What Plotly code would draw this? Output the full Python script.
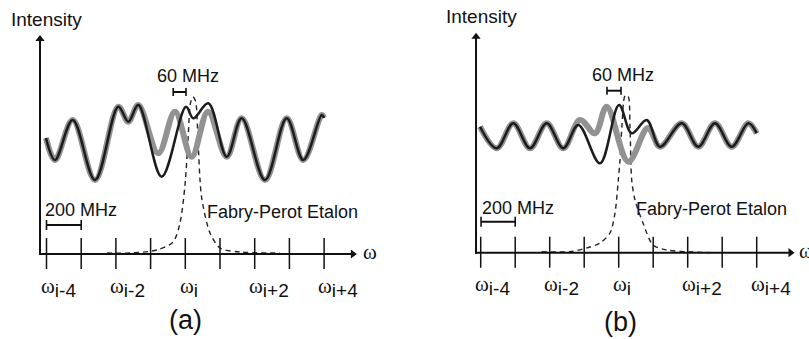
import plotly.graph_objects as go

# ---------------- data (frequency in units of mode spacing, intensity in arbitrary units) -------------
modes = [-4, -3, -2, -1, 0, 1, 2, 3, 4]
label_modes = [-4, -2, 0, 2, 4]
label_subs = ["i-4", "i-2", "i", "i+2", "i+4"]

# panel (a)
a_black_x = [-4.014, -3.755, -3.245, -2.602, -1.931, -1.643, -1.354, -0.680, 0.020, 0.231, 0.663,
             1.193, 1.625, 2.297, 2.922, 3.401, 3.931, 3.997]
a_black_y = [116, 94, 134, 74, 147.3, 132.3, 149, 77.3, 147.3, 135.7, 150.7,
             97.3, 135.7, 74, 135.7, 94, 139, 136]
a_gray_x = [-4.014, -3.755, -3.245, -2.602, -1.931, -1.643, -1.354, -0.778, -0.297, 0.184, 0.654,
            1.193, 1.625, 2.297, 2.922, 3.401, 3.931, 3.997]
a_gray_y = [116, 94, 134, 74, 147.3, 132.3, 149, 100.7, 142.3, 97.3, 142.3,
            97.3, 135.7, 74, 135.7, 94, 139, 136]
a_fp_x = [-2.256, -1.594, -0.816, -0.354, -0.153, -0.009, 0.078, 0.150, 0.222, 0.294, 0.366,
          0.424, 0.481, 0.712, 1.0, 1.576, 2.729]
a_fp_y = [1, 1, 4, 12, 31, 69, 114, 151, 157, 153, 114, 74, 54, 21, 6, 2, 1]

# panel (b)
b_black_x = [-4.020, -3.536, -3.055, -2.571, -2.087, -1.606, -1.171, -0.542, 0.009, 0.377, 0.812,
             1.197, 1.826, 2.307, 2.791, 3.275, 3.757, 4.0]
b_black_y = [126, 104.4, 129.4, 104.4, 129.4, 104.4, 127.7, 89.4, 147.7, 119.4, 132.7,
             106, 129.4, 106, 129.4, 106, 129.4, 119.4]
b_gray_x = [-4.020, -3.536, -3.055, -2.571, -2.087, -1.606, -1.122, -0.687, -0.348, 0.278, 0.849,
            1.197, 1.826, 2.307, 2.791, 3.275, 3.757, 4.0]
b_gray_y = [126, 104.4, 129.4, 104.4, 129.4, 104.4, 132.7, 119.4, 146, 91, 124.7,
            106, 129.4, 106, 129.4, 106, 129.4, 119.4]
b_fp_x = [-2.232, -1.412, -0.928, -0.542, -0.252, -0.107, -0.012, 0.038, 0.096, 0.183, 0.270,
          0.328, 0.377, 0.472, 0.704, 0.994, 1.391, 2.154, 2.733]
b_fp_y = [1, 1, 4.7, 9.7, 19.7, 39.7, 72.7, 92.7, 127.7, 156.7, 156.7,
          125.7, 72.7, 52.7, 29.7, 7.7, 2.7, 0.7, 0]

panels = [
    dict(xr="x", yr="y", black=(a_black_x, a_black_y), gray=(a_gray_x, a_gray_y), fp=(a_fp_x, a_fp_y),
         yaxis_x=-4.187, yaxis_top=219, xaxis_end=4.95, omega_x=5.32, label="(a)", label_pos=(0.0, -66),
         intensity=(-4.014, 235), mhz60=(0.092, 178), bar60=(-0.349, 0.02, 162),
         mhz200=(-3.017, 44), bar200=(-4.0, -3.0, 29), fp_text=(2.787, 42.5)),
    dict(xr="x2", yr="y2", black=(b_black_x, b_black_y), gray=(b_gray_x, b_gray_y), fp=(b_fp_x, b_fp_y),
         yaxis_x=-4.136, yaxis_top=220, xaxis_end=5.10, omega_x=5.42, label="(b)", label_pos=(0.04, -69),
         intensity=(-3.97, 236), mhz60=(0.11, 178), bar60=(-0.339, 0.067, 162),
         mhz200=(-2.93, 45), bar200=(-3.99, -3.0, 31), fp_text=(2.70, 44)),
]

FONT = "Liberation Sans, Arial, sans-serif"
INK = "#111111"
fig = go.Figure()
shapes = []
annotations = []

for p in panels:
    xr, yr = p["xr"], p["yr"]
    # Fabry-Perot etalon transmission (dashed)
    fig.add_trace(go.Scatter(x=p["fp"][0], y=p["fp"][1], xaxis=xr, yaxis=yr, mode="lines",
                             line=dict(color="#222222", width=1.4, dash="5px,4px", shape="spline", smoothing=0.8),
                             hoverinfo="skip", showlegend=False))
    # thick gray spectrum
    fig.add_trace(go.Scatter(x=p["gray"][0], y=p["gray"][1], xaxis=xr, yaxis=yr, mode="lines",
                             line=dict(color="#929292", width=6, shape="spline", smoothing=1.0),
                             hoverinfo="skip", showlegend=False))
    # thin black spectrum
    fig.add_trace(go.Scatter(x=p["black"][0], y=p["black"][1], xaxis=xr, yaxis=yr, mode="lines",
                             line=dict(color="#1c1c1c", width=2.5, shape="spline", smoothing=1.0),
                             hoverinfo="skip", showlegend=False))

    # ticks at mode positions
    for m in modes:
        shapes.append(dict(type="line", xref=xr, yref=yr, x0=m, x1=m, y0=-15, y1=16,
                           line=dict(color=INK, width=1.5)))
    # axes lines
    shapes.append(dict(type="line", xref=xr, yref=yr, x0=p["yaxis_x"], x1=p["yaxis_x"], y0=-1,
                       y1=p["yaxis_top"] - 4, line=dict(color=INK, width=2)))
    shapes.append(dict(type="line", xref=xr, yref=yr, x0=p["yaxis_x"] - 0.03, x1=p["xaxis_end"] - 0.15,
                       y0=0, y1=0, line=dict(color=INK, width=2)))
    # arrowheads
    fig.add_trace(go.Scatter(x=[p["yaxis_x"]], y=[p["yaxis_top"] - 4], xaxis=xr, yaxis=yr, mode="markers",
                             marker=dict(symbol="triangle-up", size=8, color=INK, line=dict(width=0)),
                             hoverinfo="skip", showlegend=False, cliponaxis=False))
    fig.add_trace(go.Scatter(x=[p["xaxis_end"] - 0.12], y=[0], xaxis=xr, yaxis=yr, mode="markers",
                             marker=dict(symbol="triangle-right", size=8, color=INK, line=dict(width=0)),
                             hoverinfo="skip", showlegend=False, cliponaxis=False))
    annotations.append(dict(xref=xr, yref=yr, x=p["omega_x"], y=2, text="ω", showarrow=False,
                            font=dict(family="Liberation Serif, serif", size=21, color=INK)))
    # mode labels
    for m, s in zip(label_modes, label_subs):
        annotations.append(dict(xref=xr, yref=yr, x=m - 0.22, y=-33, xanchor="left", yanchor="middle",
                                text='<span style="font-family:Liberation Serif">ω</span><sub><span style="font-size:19px">%s</span></sub>' % s,
                                showarrow=False, font=dict(family=FONT, size=21, color=INK)))
    # texts
    annotations.append(dict(xref=xr, yref=yr, x=p["intensity"][0], y=p["intensity"][1], text="Intensity",
                            showarrow=False, font=dict(family=FONT, size=19, color=INK)))
    annotations.append(dict(xref=xr, yref=yr, x=p["mhz60"][0], y=p["mhz60"][1], text="60 MHz",
                            showarrow=False, font=dict(family=FONT, size=18, color=INK)))
    annotations.append(dict(xref=xr, yref=yr, x=p["mhz200"][0], y=p["mhz200"][1], text="200 MHz",
                            showarrow=False, font=dict(family=FONT, size=18, color=INK)))
    annotations.append(dict(xref=xr, yref=yr, x=p["fp_text"][0], y=p["fp_text"][1], text="Fabry-Perot Etalon",
                            showarrow=False, font=dict(family=FONT, size=18, color=INK)))
    annotations.append(dict(xref=xr, yref=yr, x=p["label_pos"][0], y=p["label_pos"][1], text=p["label"],
                            showarrow=False, font=dict(family=FONT, size=27, color=INK)))
    # scale bars
    for (x0, x1, yb), cap in ((p["bar60"], 4), (p["bar200"], 5)):
        shapes.append(dict(type="line", xref=xr, yref=yr, x0=x0, x1=x1, y0=yb, y1=yb,
                           line=dict(color=INK, width=2)))
        for xc in (x0, x1):
            shapes.append(dict(type="line", xref=xr, yref=yr, x0=xc, x1=xc, y0=yb - cap, y1=yb + cap,
                               line=dict(color=INK, width=1.6)))

fig.update_layout(
    width=809, height=339,
    margin=dict(l=0, r=0, t=0, b=0),
    paper_bgcolor="white", plot_bgcolor="white",
    hovermode=False,
    xaxis=dict(domain=[0, 0.5], range=[-5.340, 6.317], visible=False, fixedrange=True),
    yaxis=dict(domain=[0, 1], range=[-85, 254], visible=False, anchor="x", fixedrange=True),
    xaxis2=dict(domain=[0.5, 1], range=[-6.209, 5.516], visible=False, fixedrange=True),
    yaxis2=dict(domain=[0, 1], range=[-86.3, 252.7], visible=False, anchor="x2", fixedrange=True),
    shapes=shapes, annotations=annotations,
)

fig.write_html("out.html", config={"displayModeBar": False},
               post_script="document.body.style.margin='0';document.body.style.overflow='hidden';")
